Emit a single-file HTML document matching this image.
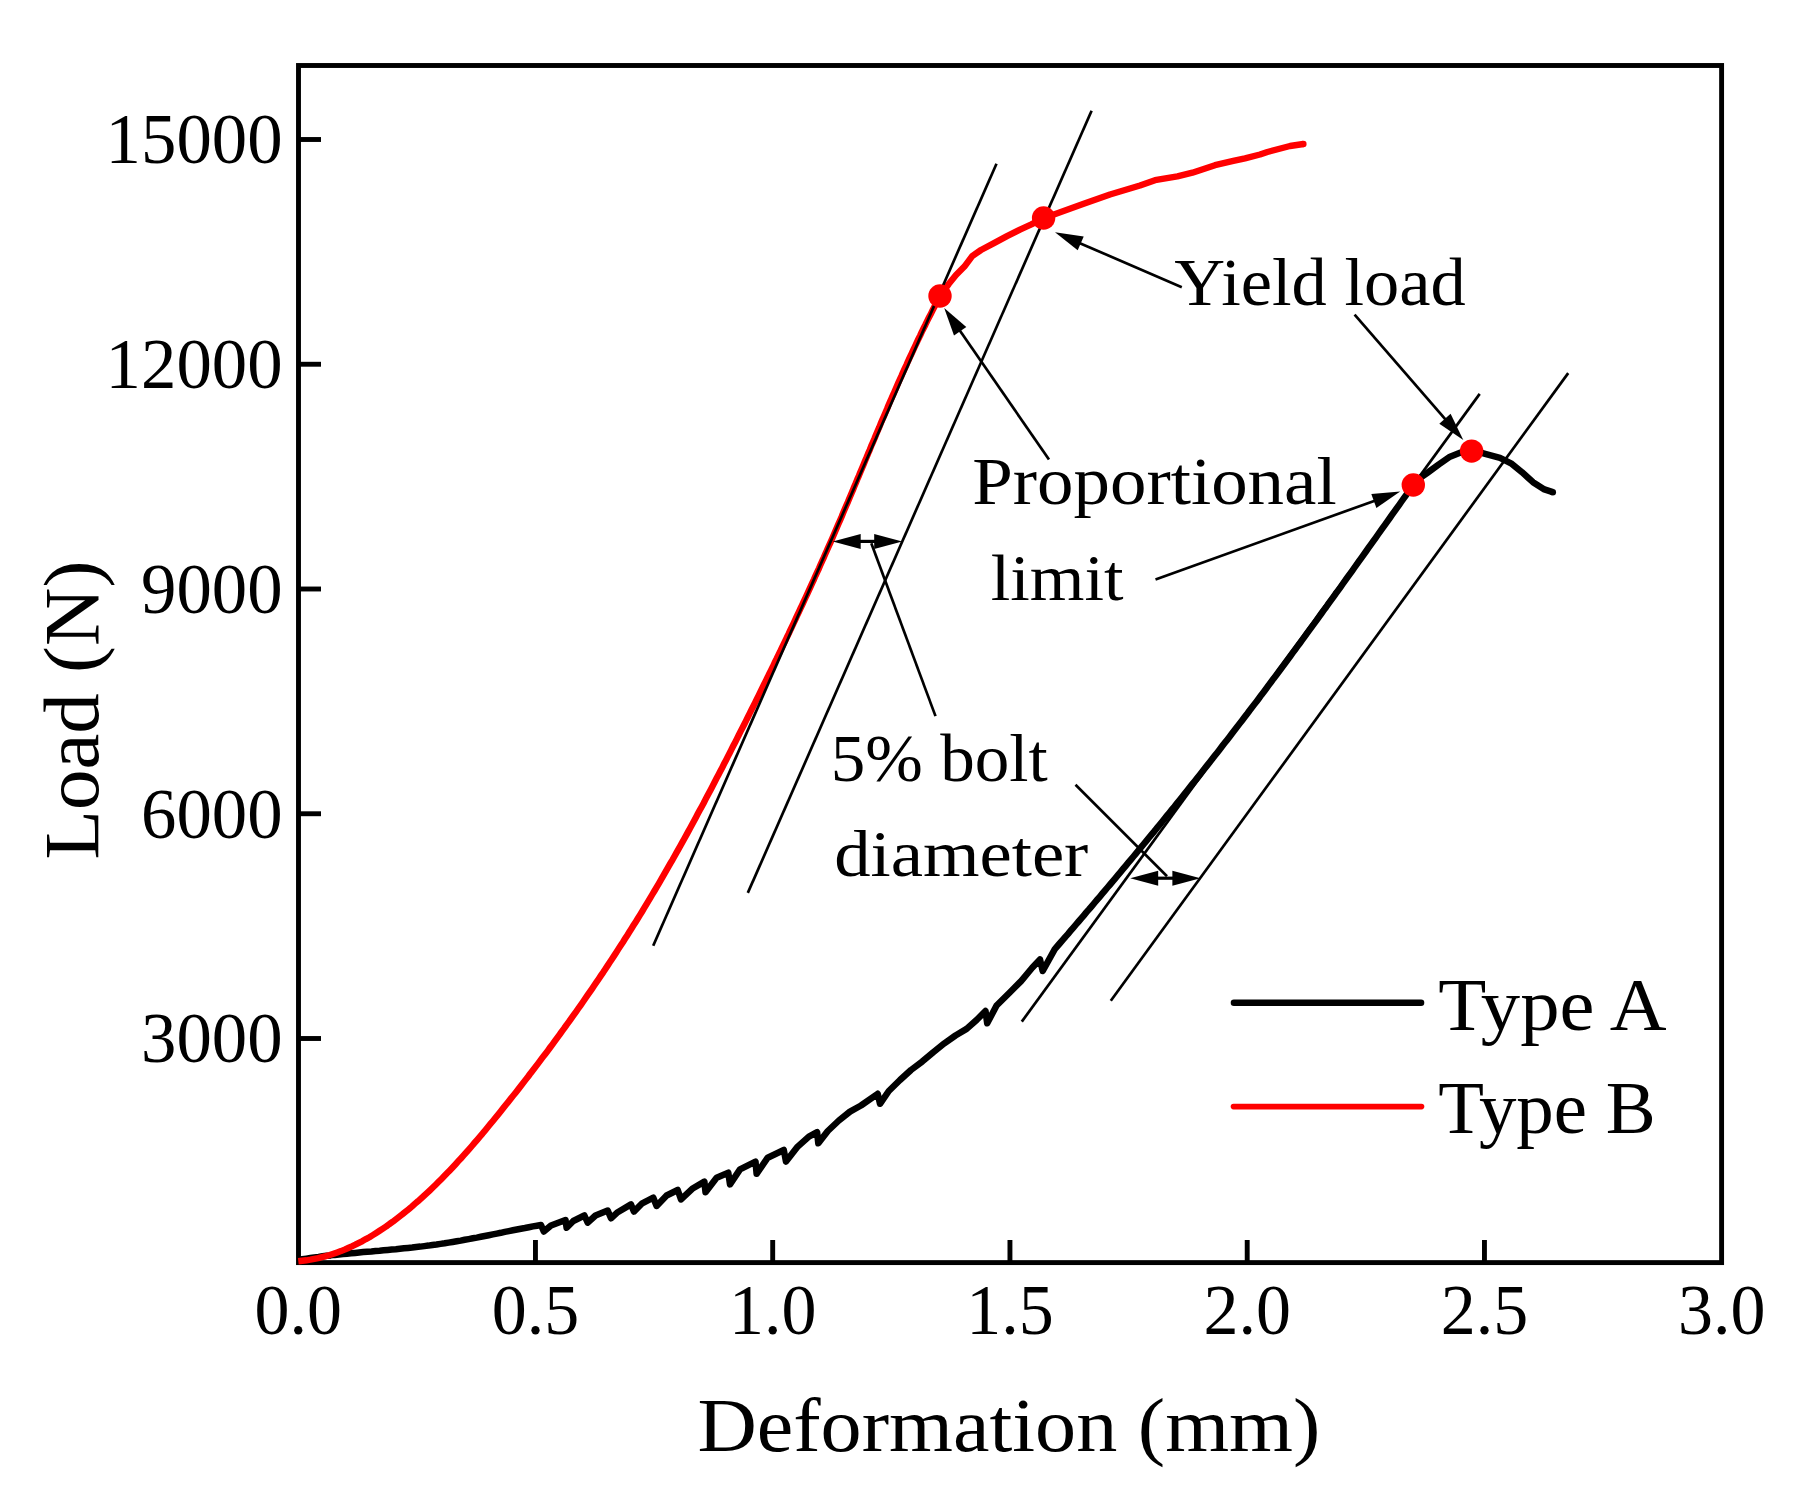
<!DOCTYPE html>
<html><head><meta charset="utf-8"><title>Load-deformation curves</title>
<style>
html,body{margin:0;padding:0;background:#fff;}
body{width:1801px;height:1494px;overflow:hidden;}
svg{display:block;}
text{font-family:"Liberation Serif","Times New Roman",serif;fill:#000;}
</style></head><body>
<svg width="1801" height="1494" viewBox="0 0 1801 1494">
<rect x="0" y="0" width="1801" height="1494" fill="#fff"/>
<g stroke="#000" stroke-width="4.9" fill="none">
<rect x="298.5" y="65.5" width="1423.1" height="1197.1" stroke-linejoin="miter"/>
<line x1="298.5" y1="1038.50" x2="321" y2="1038.50"/>
<line x1="298.5" y1="813.75" x2="321" y2="813.75"/>
<line x1="298.5" y1="589.00" x2="321" y2="589.00"/>
<line x1="298.5" y1="364.25" x2="321" y2="364.25"/>
<line x1="298.5" y1="139.50" x2="321" y2="139.50"/>
<line x1="535.45" y1="1262.6" x2="535.45" y2="1240"/>
<line x1="772.70" y1="1262.6" x2="772.70" y2="1240"/>
<line x1="1009.95" y1="1262.6" x2="1009.95" y2="1240"/>
<line x1="1247.20" y1="1262.6" x2="1247.20" y2="1240"/>
<line x1="1484.45" y1="1262.6" x2="1484.45" y2="1240"/>
</g>
<polyline points="298.3,1259.8 302.3,1259.2 306.4,1258.6 310.4,1258.0 314.4,1257.4 318.5,1256.9 322.6,1256.3 326.6,1255.8 330.7,1255.4 334.7,1254.9 338.8,1254.5 342.9,1254.1 346.9,1253.7 351.0,1253.3 355.1,1252.9 359.2,1252.5 363.2,1252.1 367.3,1251.7 371.4,1251.4 375.5,1251.0 379.6,1250.7 383.6,1250.3 387.7,1249.9 391.8,1249.5 395.9,1249.2 399.9,1248.8 404.0,1248.3 408.1,1247.9 412.2,1247.5 416.2,1247.0 420.3,1246.6 424.3,1246.1 428.4,1245.6 432.4,1245.0 436.5,1244.5 440.5,1243.9 444.6,1243.3 448.6,1242.6 452.6,1242.0 456.7,1241.3 460.7,1240.6 464.7,1239.8 468.7,1239.1 472.8,1238.3 476.8,1237.6 480.8,1236.8 484.8,1236.0 488.8,1235.2 492.8,1234.4 496.8,1233.6 500.8,1232.8 504.8,1231.9 508.9,1231.1 512.9,1230.3 516.9,1229.5 520.9,1228.7 524.9,1228.0 528.9,1227.2 532.9,1226.4 537.0,1225.7 541.0,1225.0 543.8,1231.6 551.0,1225.5 565.5,1220.0 566.6,1227.7 573.3,1221.0 584.4,1215.5 587.7,1222.7 595.5,1215.5 607.7,1210.5 611.0,1218.3 617.7,1212.2 631.0,1204.4 633.9,1211.6 642.2,1203.3 653.3,1197.7 656.6,1206.0 666.6,1195.5 677.7,1190.0 681.0,1199.4 692.2,1188.8 704.4,1181.6 705.5,1192.2 716.6,1177.7 728.3,1172.7 730.0,1184.4 740.0,1169.4 755.5,1161.6 756.6,1173.8 767.7,1157.7 783.8,1150.0 786.0,1161.6 797.7,1146.6 808.9,1136.6 817.1,1132.2 818.3,1143.3 827.8,1131.0 838.9,1120.5 850.0,1111.6 861.0,1105.5 877.7,1093.8 880.0,1103.8 888.8,1091.0 900.0,1080.0 911.0,1070.0 922.2,1061.6 933.3,1052.2 944.4,1043.3 955.5,1035.5 966.6,1028.9 976.6,1020.0 985.5,1011.0 987.2,1023.3 996.6,1005.5 1010.0,992.2 1021.1,981.1 1032.2,967.7 1040.0,959.4 1042.7,971.0 1054.8,949.1 1057.5,946.0 1060.1,943.0 1062.8,939.9 1065.4,936.8 1068.1,933.8 1070.7,930.7 1073.4,927.6 1076.0,924.5 1078.6,921.5 1081.3,918.4 1083.9,915.3 1086.5,912.2 1089.2,909.2 1091.8,906.1 1094.4,903.0 1097.0,899.9 1099.7,896.8 1102.3,893.7 1104.9,890.6 1107.5,887.5 1110.1,884.5 1112.7,881.4 1115.3,878.3 1117.9,875.2 1120.5,872.1 1123.1,868.9 1125.7,865.8 1128.3,862.7 1130.9,859.6 1133.5,856.5 1136.1,853.4 1138.6,850.3 1141.2,847.2 1143.8,844.0 1146.4,840.9 1148.9,837.8 1151.5,834.7 1154.1,831.6 1156.6,828.4 1159.2,825.3 1161.7,822.2 1164.3,819.0 1166.8,815.9 1169.4,812.7 1171.9,809.6 1174.5,806.5 1177.0,803.3 1179.5,800.2 1182.1,797.0 1184.6,793.9 1187.1,790.7 1189.6,787.5 1192.1,784.4 1194.7,781.2 1197.2,778.1 1199.7,774.9 1202.2,771.7 1204.7,768.5 1207.2,765.4 1209.7,762.2 1212.2,759.0 1214.7,755.8 1217.2,752.7 1219.7,749.5 1222.1,746.3 1224.6,743.1 1227.1,739.9 1229.6,736.7 1232.0,733.5 1234.5,730.3 1237.0,727.1 1239.4,723.9 1241.9,720.7 1244.3,717.5 1246.8,714.3 1249.2,711.0 1251.7,707.8 1254.1,704.6 1256.6,701.4 1259.0,698.2 1261.4,694.9 1263.9,691.7 1266.3,688.5 1268.7,685.2 1271.1,682.0 1273.5,678.7 1276.0,675.5 1278.4,672.3 1280.8,669.0 1283.2,665.8 1285.6,662.5 1288.0,659.3 1290.4,656.0 1292.8,652.7 1295.2,649.5 1297.6,646.2 1300.0,643.0 1302.4,639.7 1304.8,636.4 1307.1,633.2 1309.5,629.9 1311.9,626.6 1314.3,623.4 1316.7,620.1 1319.0,616.8 1321.4,613.5 1323.8,610.2 1326.2,607.0 1328.5,603.7 1330.9,600.4 1333.3,597.1 1335.6,593.8 1338.0,590.6 1340.4,587.3 1342.7,584.0 1345.1,580.7 1347.4,577.4 1349.8,574.1 1352.2,570.8 1354.5,567.5 1356.9,564.2 1359.2,560.9 1361.6,557.6 1363.9,554.3 1366.3,551.0 1368.6,547.7 1371.0,544.4 1373.3,541.1 1375.7,537.8 1378.0,534.5 1380.4,531.2 1382.7,527.9 1385.1,524.6 1387.4,521.3 1389.8,518.0 1392.1,514.7 1394.5,511.4 1396.8,508.1 1399.2,504.8 1401.5,501.5 1403.9,498.2 1406.3,494.9 1408.6,491.6 1411.0,488.3 1413.3,485.0 1422.0,476.7 1427.8,472.5 1438.9,464.4 1450.0,456.7 1460.0,452.8 1471.6,451.1 1483.3,453.3 1500.0,457.8 1511.0,463.3 1522.0,472.2 1533.0,482.2 1544.4,489.4 1552.8,492.2" fill="none" stroke="#000" stroke-width="6.5" stroke-linejoin="round" stroke-linecap="butt"/>
<circle cx="1552.8" cy="492.2" r="3.25" fill="#000"/>
<polyline points="298.3,1261.3 302.3,1260.8 306.3,1260.3 310.3,1259.7 314.3,1258.9 318.2,1258.1 322.0,1257.1 325.9,1256.1 329.7,1255.0 333.5,1253.7 337.2,1252.4 340.9,1251.1 344.6,1249.6 348.2,1248.0 351.8,1246.4 355.4,1244.7 358.9,1242.9 362.5,1241.1 365.9,1239.1 369.4,1237.2 372.8,1235.1 376.2,1233.0 379.6,1230.8 382.9,1228.6 386.3,1226.4 389.5,1224.0 392.8,1221.7 396.0,1219.2 399.2,1216.8 402.4,1214.3 405.5,1211.7 408.7,1209.2 411.8,1206.6 414.8,1203.9 417.9,1201.3 420.9,1198.6 423.9,1195.8 426.9,1193.1 429.9,1190.3 432.8,1187.5 435.7,1184.7 438.6,1181.8 441.5,1178.9 444.3,1176.0 447.2,1173.1 450.0,1170.2 452.8,1167.2 455.6,1164.2 458.3,1161.2 461.1,1158.2 463.8,1155.2 466.5,1152.1 469.2,1149.1 471.9,1146.0 474.5,1142.9 477.2,1139.8 479.8,1136.7 482.5,1133.6 485.1,1130.4 487.7,1127.3 490.3,1124.1 492.9,1121.0 495.5,1117.8 498.0,1114.7 500.6,1111.5 503.1,1108.3 505.7,1105.1 508.2,1102.0 510.7,1098.8 513.2,1095.6 515.8,1092.4 518.3,1089.2 520.8,1086.0 523.2,1082.8 525.7,1079.6 528.2,1076.5 530.6,1073.2 533.1,1070.0 535.5,1066.8 538.0,1063.6 540.4,1060.4 542.8,1057.2 545.3,1054.0 547.7,1050.8 550.1,1047.5 552.5,1044.3 554.8,1041.1 557.2,1037.8 559.6,1034.6 561.9,1031.3 564.3,1028.1 566.6,1024.8 569.0,1021.6 571.3,1018.3 573.6,1015.1 576.0,1011.8 578.3,1008.5 580.6,1005.3 582.9,1002.0 585.1,998.7 587.4,995.4 589.7,992.1 592.0,988.8 594.2,985.5 596.5,982.2 598.7,978.9 600.9,975.6 603.2,972.3 605.4,968.9 607.6,965.6 609.8,962.3 612.0,958.9 614.2,955.6 616.4,952.2 618.5,948.9 620.7,945.5 622.9,942.2 625.0,938.8 627.2,935.4 629.3,932.0 631.4,928.7 633.5,925.3 635.7,921.9 637.8,918.5 639.9,915.1 642.0,911.7 644.1,908.2 646.1,904.8 648.2,901.4 650.3,897.9 652.3,894.5 654.4,891.0 656.4,887.6 658.5,884.1 660.5,880.7 662.5,877.2 664.5,873.7 666.5,870.2 668.5,866.7 670.5,863.2 672.5,859.8 674.5,856.2 676.5,852.7 678.5,849.2 680.4,845.7 682.4,842.2 684.3,838.7 686.3,835.1 688.2,831.6 690.2,828.0 692.1,824.5 694.0,821.0 695.9,817.4 697.8,813.8 699.7,810.3 701.7,806.7 703.6,803.2 705.4,799.6 707.3,796.0 709.2,792.5 711.1,788.9 713.0,785.3 714.8,781.7 716.7,778.1 718.6,774.5 720.4,771.0 722.3,767.4 724.1,763.8 726.0,760.2 727.8,756.6 729.7,753.0 731.5,749.4 733.3,745.8 735.2,742.2 737.0,738.6 738.8,735.0 740.6,731.4 742.5,727.8 744.3,724.2 746.1,720.6 747.9,717.0 749.7,713.4 751.5,709.8 753.3,706.2 755.1,702.6 756.9,699.0 758.7,695.4 760.5,691.7 762.2,688.1 764.0,684.5 765.8,680.9 767.6,677.3 769.3,673.7 771.1,670.1 772.9,666.5 774.6,662.8 776.4,659.2 778.1,655.6 779.9,652.0 781.6,648.4 783.4,644.7 785.1,641.1 786.8,637.5 788.6,633.9 790.3,630.2 792.0,626.6 793.7,623.0 795.4,619.3 797.1,615.7 798.8,612.1 800.5,608.4 802.2,604.8 803.9,601.2 805.6,597.5 807.3,593.9 809.0,590.2 810.6,586.6 812.3,582.9 814.0,579.3 815.6,575.6 817.3,571.9 819.0,568.3 820.6,564.6 822.2,560.9 823.9,557.3 825.5,553.6 827.1,549.9 828.8,546.2 830.4,542.6 832.0,538.9 833.6,535.2 835.2,531.5 836.8,527.8 838.4,524.1 840.0,520.4 841.6,516.7 843.1,513.0 844.7,509.3 846.3,505.6 847.9,501.9 849.4,498.2 851.0,494.5 852.6,490.8 854.1,487.0 855.7,483.3 857.2,479.6 858.8,475.9 860.3,472.2 861.9,468.5 863.5,464.7 865.0,461.0 866.6,457.3 868.1,453.6 869.7,449.9 871.2,446.1 872.8,442.4 874.4,438.7 875.9,435.0 877.5,431.3 879.1,427.6 880.6,423.8 882.2,420.1 883.8,416.4 885.4,412.7 887.0,409.0 888.5,405.3 890.1,401.6 891.7,397.9 893.4,394.2 895.0,390.5 896.6,386.8 898.2,383.1 899.8,379.5 901.5,375.8 903.1,372.1 904.8,368.4 906.5,364.8 908.1,361.1 909.8,357.4 911.5,353.8 913.2,350.1 914.9,346.5 916.6,342.8 918.3,339.2 920.1,335.6 921.8,331.9 923.6,328.3 925.4,324.7 927.1,321.1 928.9,317.5 930.8,313.9 932.6,310.3 934.4,306.7 936.2,303.1 938.1,299.6 940.0,296.0 948.7,284.0 956.0,275.0 964.4,266.6 972.2,256.1 981.0,250.0 994.0,243.1 1007.0,236.1 1020.0,229.6 1031.4,224.4 1043.6,218.0 1056.0,213.7 1083.0,204.0 1110.0,194.5 1140.0,185.5 1155.0,180.2 1177.4,176.3 1192.4,172.7 1215.0,165.2 1233.3,160.9 1245.0,158.3 1260.0,154.5 1267.4,152.0 1290.0,146.0 1303.4,144.0" fill="none" stroke="#f00" stroke-width="6.4" stroke-linejoin="round" stroke-linecap="butt"/>
<circle cx="1303.4" cy="144.0" r="3.2" fill="#f00"/>
<g stroke="#000" stroke-width="2.7" stroke-linecap="butt" fill="#000">
<line x1="653.2" y1="945.8" x2="996.5" y2="163.7"/>
<line x1="747.8" y1="892.9" x2="1091.6" y2="110.8"/>
<line x1="1021.8" y1="1021.6" x2="1479.7" y2="393.9"/>
<line x1="1110.8" y1="1000.8" x2="1568.2" y2="373.1"/>
<line x1="935.5" y1="716.1" x2="871.3" y2="543.2"/>
<line x1="1075.5" y1="784.7" x2="1167" y2="876.2"/>
<line x1="1181.8" y1="287.3" x2="1077.0" y2="241.9"/><polygon points="1055.0,232.3 1077.7,250.3 1083.7,236.6" stroke="none"/>
<line x1="1354.6" y1="314.6" x2="1447.6" y2="421.8"/><polygon points="1463.3,439.9 1450.6,413.8 1439.3,423.7" stroke="none"/>
<line x1="1049.0" y1="459.5" x2="957.9" y2="327.8"/><polygon points="944.2,308.1 954.0,335.4 966.3,326.9" stroke="none"/>
<line x1="1155.5" y1="579.5" x2="1377.6" y2="499.7"/><polygon points="1400.2,491.6 1371.3,494.0 1376.4,508.1" stroke="none"/>
<line x1="852.7" y1="541.4" x2="882.2" y2="541.4" stroke-width="3.2"/>
<polygon points="832.7,541.4 860.7,548.9 860.7,533.9" stroke="none"/>
<polygon points="902.2,541.4 874.2,533.9 874.2,548.9" stroke="none"/>
<line x1="1150.2" y1="878.2" x2="1180.4" y2="878.2" stroke-width="3.2"/>
<polygon points="1130.2,878.2 1158.2,885.7 1158.2,870.7" stroke="none"/>
<polygon points="1200.4,878.2 1172.4,870.7 1172.4,885.7" stroke="none"/>
</g>
<circle cx="940" cy="296" r="11.7" fill="#f00"/>
<circle cx="1043.6" cy="218" r="11.7" fill="#f00"/>
<circle cx="1413.3" cy="485" r="11.7" fill="#f00"/>
<circle cx="1471.6" cy="451.1" r="11.7" fill="#f00"/>
<line x1="1233.9" y1="1002.8" x2="1421.1" y2="1002.8" stroke="#000" stroke-width="6.4" stroke-linecap="round"/>
<line x1="1233.5" y1="1106.6" x2="1421.5" y2="1106.6" stroke="#f00" stroke-width="5.6" stroke-linecap="round"/>
<text transform="translate(140.99,1062.30) scale(0.9739,1)" font-size="72.70">3000</text>
<text transform="translate(140.99,837.55) scale(0.9739,1)" font-size="72.70">6000</text>
<text transform="translate(140.99,612.80) scale(0.9739,1)" font-size="72.70">9000</text>
<text transform="translate(105.59,388.05) scale(0.9739,1)" font-size="72.70">12000</text>
<text transform="translate(105.59,163.29) scale(0.9739,1)" font-size="72.70">15000</text>
<text transform="translate(254.45,1334.0) scale(0.9682,1)" font-size="72.3">0.0</text>
<text transform="translate(491.70,1334.0) scale(0.9682,1)" font-size="72.3">0.5</text>
<text transform="translate(728.95,1334.0) scale(0.9682,1)" font-size="72.3">1.0</text>
<text transform="translate(966.20,1334.0) scale(0.9682,1)" font-size="72.3">1.5</text>
<text transform="translate(1203.45,1334.0) scale(0.9682,1)" font-size="72.3">2.0</text>
<text transform="translate(1440.70,1334.0) scale(0.9682,1)" font-size="72.3">2.5</text>
<text transform="translate(1677.95,1334.0) scale(0.9682,1)" font-size="72.3">3.0</text>
<text transform="translate(697.42,1450.90) scale(1.0694,1)" font-size="76.85">Deformation (mm)</text>
<text transform="translate(98.1,859.45) rotate(-90) scale(1.0455,1)" font-size="77.42">Load (N)</text>
<text transform="translate(1174.23,305.20) scale(1.0333,1)" font-size="68.16">Yield load</text>
<text transform="translate(972.29,504.40) scale(1.0741,1)" font-size="67.87">Proportional</text>
<text transform="translate(990.79,599.50) scale(1.0655,1)" font-size="65.99">limit</text>
<text transform="translate(830.79,781.40) scale(1.0118,1)" font-size="68.30">5% bolt</text>
<text transform="translate(834.18,875.50) scale(1.0915,1)" font-size="66.57">diameter</text>
<text transform="translate(1438.28,1030.00) scale(1.0778,1)" font-size="72.98">Type A</text>
<text transform="translate(1438.35,1133.20) scale(1.0181,1)" font-size="73.59">Type B</text>
</svg></body></html>
